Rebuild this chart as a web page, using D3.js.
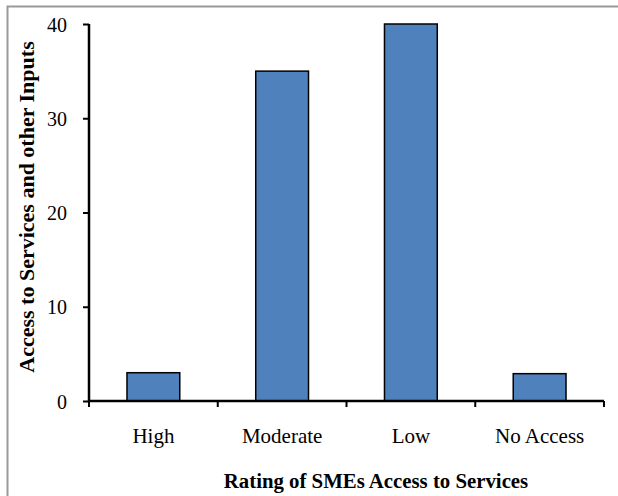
<!DOCTYPE html>
<html>
<head>
<meta charset="utf-8">
<script src="https://cdn.jsdelivr.net/npm/d3@7"></script>
<style>
  html, body { margin: 0; padding: 0; background: #fff; }
  svg { display: block; }
  svg text { font-family: "Liberation Serif", "Times New Roman", serif; fill: #000; }
</style>
</head>
<body>
<svg id="chart" width="618" height="496"></svg>
<script>
// Ratings of SME access to services
const categories = ["High", "Moderate", "Low", "No Access"];
const values = [3, 35, 40, 2.9];
const yTicks = [0, 10, 20, 30, 40];
const xTitle = "Rating of SMEs Access to Services";
const yTitle = "Access to Services and other Inputs";

const FONT = "'Liberation Serif', 'Times New Roman', serif";
const svg = d3.select("#chart");
const W = 618, H = 496;
const margin = { left: 89, right: 14, top: 24, bottom: 95 };

// chart-area frame (continues past the lower and right edges)
svg.append("rect")
  .attr("x", 7.5).attr("y", 6.5)
  .attr("width", W + 20).attr("height", H + 20)
  .attr("fill", "#fff").attr("stroke", "#999").attr("stroke-width", 2);

const x = d3.scaleBand()
  .domain(categories)
  .range([margin.left, W - margin.right])
  .paddingInner(0.59).paddingOuter(0.295);

const y = d3.scaleLinear()
  .domain([0, 40])
  .range([H - margin.bottom, margin.top]);

// bars
svg.append("g").selectAll("rect")
  .data(categories.map((c, i) => ({ c, v: values[i] })))
  .join("rect")
  .attr("x", d => x(d.c))
  .attr("y", d => y(d.v))
  .attr("width", x.bandwidth())
  .attr("height", d => y(0) - y(d.v))
  .attr("fill", "#4F81BD")
  .attr("stroke", "#000").attr("stroke-width", 1.5);

// y axis
const yAxis = svg.append("g")
  .attr("transform", `translate(${margin.left},0)`)
  .call(d3.axisLeft(y).tickValues(yTicks).tickSize(6).tickPadding(16).tickFormat(d3.format("d")))
  .attr("font-family", FONT).attr("font-size", 20);
yAxis.select(".domain").attr("stroke", "#000").attr("stroke-width", 2.5)
  .attr("d", `M0,${y(40)}V${y(0)}`);
yAxis.selectAll(".tick line").attr("stroke", "#000").attr("stroke-width", 2);
yAxis.selectAll(".tick text").attr("dy", "0.35em");

// x axis: tick marks sit on category boundaries
const xAxis = svg.append("g")
  .attr("transform", `translate(0,${y(0)})`);
xAxis.append("path")
  .attr("d", `M${margin.left},0H${W - margin.right}`)
  .attr("stroke", "#000").attr("stroke-width", 2.5).attr("fill", "none");
const step = x.step();
const bounds = d3.range(categories.length + 1).map(i => margin.left + i * step);
xAxis.selectAll("line.b").data(bounds).join("line")
  .attr("class", "b")
  .attr("x1", d => d).attr("x2", d => d)
  .attr("y1", 0).attr("y2", 6)
  .attr("stroke", "#000").attr("stroke-width", 2);
xAxis.selectAll("text.c").data(categories).join("text")
  .attr("class", "c")
  .attr("x", d => x(d) + x.bandwidth() / 2)
  .attr("y", 42)
  .attr("text-anchor", "middle")
  .attr("font-family", FONT)
  .attr("font-size", 21)
  .text(d => d);

// axis titles
svg.append("text")
  .attr("x", 376)
  .attr("y", 488)
  .attr("text-anchor", "middle")
  .attr("font-family", FONT)
  .attr("font-size", 20.8).attr("font-weight", "bold")
  .text(xTitle);

svg.append("text")
  .attr("transform", `translate(34,207) rotate(-90)`)
  .attr("text-anchor", "middle")
  .attr("font-family", FONT)
  .attr("font-size", 22).attr("font-weight", "bold")
  .text(yTitle);
</script>
</body>
</html>
